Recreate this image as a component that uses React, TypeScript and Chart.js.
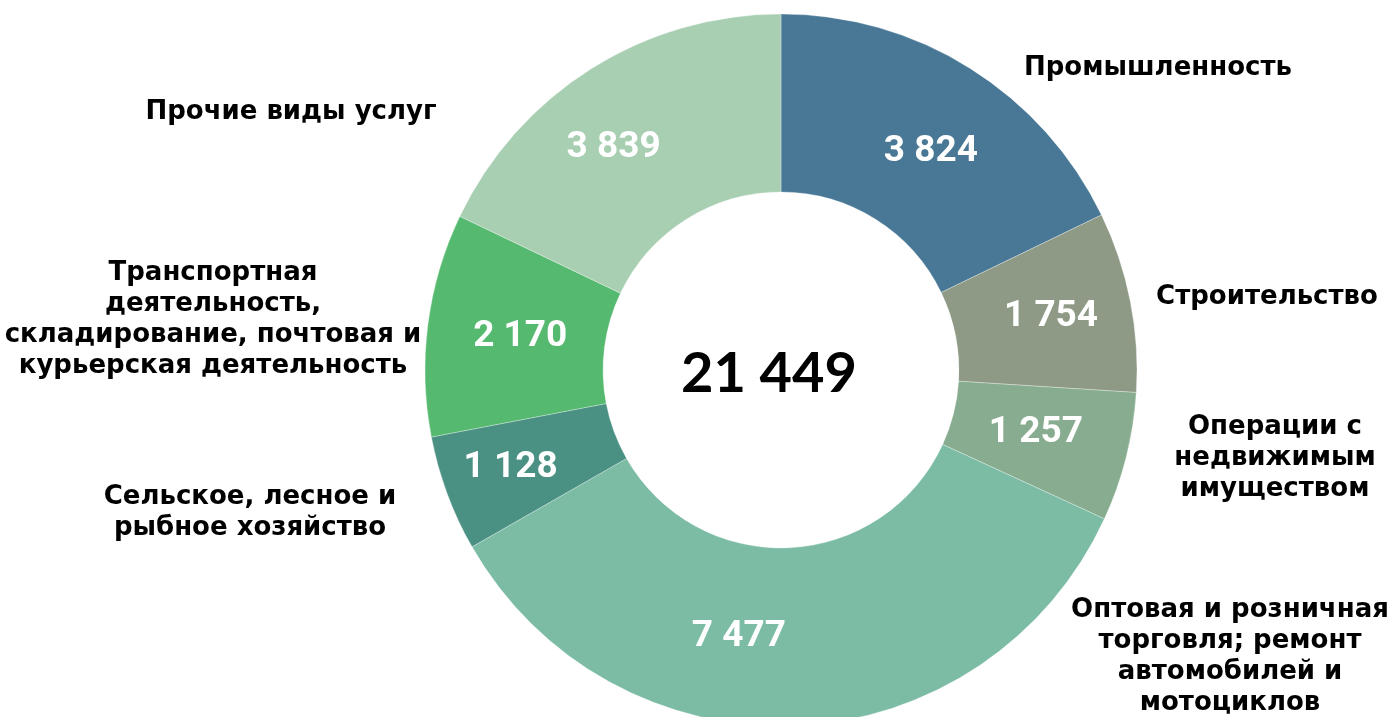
import React, { useEffect, useRef } from "react";
import { Chart, registerables } from "chart.js";

Chart.register(...registerables);

const categories: string[][] = [
  ["Промышленность"],
  ["Строительство"],
  ["Операции с", "недвижимым", "имуществом"],
  ["Оптовая и розничная", "торговля; ремонт", "автомобилей и", "мотоциклов"],
  ["Сельское, лесное и", "рыбное хозяйство"],
  ["Транспортная", "деятельность,", "складирование, почтовая и", "курьерская деятельность"],
  ["Прочие виды услуг"],
];

const values: number[] = [3824, 1754, 1257, 7477, 1128, 2170, 3839];

const valueLabels: string[] = ["3 824", "1 754", "1 257", "7 477", "1 128", "2 170", "3 839"];

const totalLabel = "21 449";

const colors: string[] = ["#487895", "#8e9a86", "#88ac90", "#7cbca4", "#4a9183", "#55b96f", "#a9cfb3"];

// text anchor (center of first line) of each outer category label
const outerLabelAnchors: [number, number][] = [
  [1158, 68],
  [1267, 297],
  [1275, 427],
  [1230, 610],
  [250, 497],
  [213, 273],
  [291, 112],
];

// small manual nudges of the value labels (px), as placed in the original
const valueLabelNudges: [number, number][] = [
  [8, 8],
  [8, -2],
  [-4, -3],
  [-54, 0],
  [-20, 5],
  [4, 1],
  [-25, 4],
];

const labelFont = "bold 26px 'DejaVu Sans', sans-serif";
const valueFont = "bold 37px Roboto, 'DejaVu Sans', sans-serif";
const totalFont = "bold 56px Lato, 'DejaVu Sans', sans-serif";

const labelsPlugin = {
  id: "donutLabels",
  afterDraw(chart: any) {
    const ctx = chart.ctx as CanvasRenderingContext2D;
    const meta = chart.getDatasetMeta(0);
    ctx.save();
    ctx.font = valueFont;
    ctx.fillStyle = "#ffffff";
    ctx.textAlign = "center";
    ctx.textBaseline = "middle";
    meta.data.forEach((arc: any, i: number) => {
      const p = arc.getProps(["x", "y", "startAngle", "endAngle", "innerRadius", "outerRadius"], true);
      const mid = (p.startAngle + p.endAngle) / 2;
      const r = (p.innerRadius + p.outerRadius) / 2;
      const [dx, dy] = valueLabelNudges[i];
      ctx.fillText(valueLabels[i], p.x + Math.cos(mid) * r + dx, p.y + Math.sin(mid) * r + dy);
    });
    const a0 = meta.data[0];
    ctx.fillStyle = "#000000";
    ctx.font = totalFont;
    ctx.fillText(totalLabel, a0.x - 12, a0.y + 4);
    ctx.font = labelFont;
    categories.forEach((lines, i) => {
      const [ax, ay] = outerLabelAnchors[i];
      lines.forEach((line, j) => {
        ctx.fillText(line, ax, ay + j * 31);
      });
    });
    ctx.restore();
  },
};

export default function App() {
  const canvasRef = useRef<HTMLCanvasElement | null>(null);

  useEffect(() => {
    if (!canvasRef.current) return;
    const chart = new Chart(canvasRef.current, {
      type: "doughnut",
      data: {
        labels: categories.map((c) => c.join(" ")),
        datasets: [
          {
            data: values,
            backgroundColor: colors,
            borderColor: "rgba(255,255,255,0.5)",
            borderWidth: 0.6,
          },
        ],
      },
      options: {
        responsive: false,
        animation: false,
        devicePixelRatio: 1,
        radius: 356,
        cutout: "50%",
        layout: { padding: { left: 174, right: 0, top: 0, bottom: 0 } },
        plugins: {
          legend: { display: false },
          tooltip: { enabled: false },
        },
      } as any,
      plugins: [labelsPlugin],
    });
    return () => chart.destroy();
  }, []);

  return (
    <div
      style={{
        position: "absolute",
        left: 0,
        top: 0,
        width: 1388,
        height: 717,
        overflow: "hidden",
        background: "#ffffff",
      }}
    >
      <canvas ref={canvasRef} width={1388} height={740} style={{ display: "block" }} />
    </div>
  );
}
